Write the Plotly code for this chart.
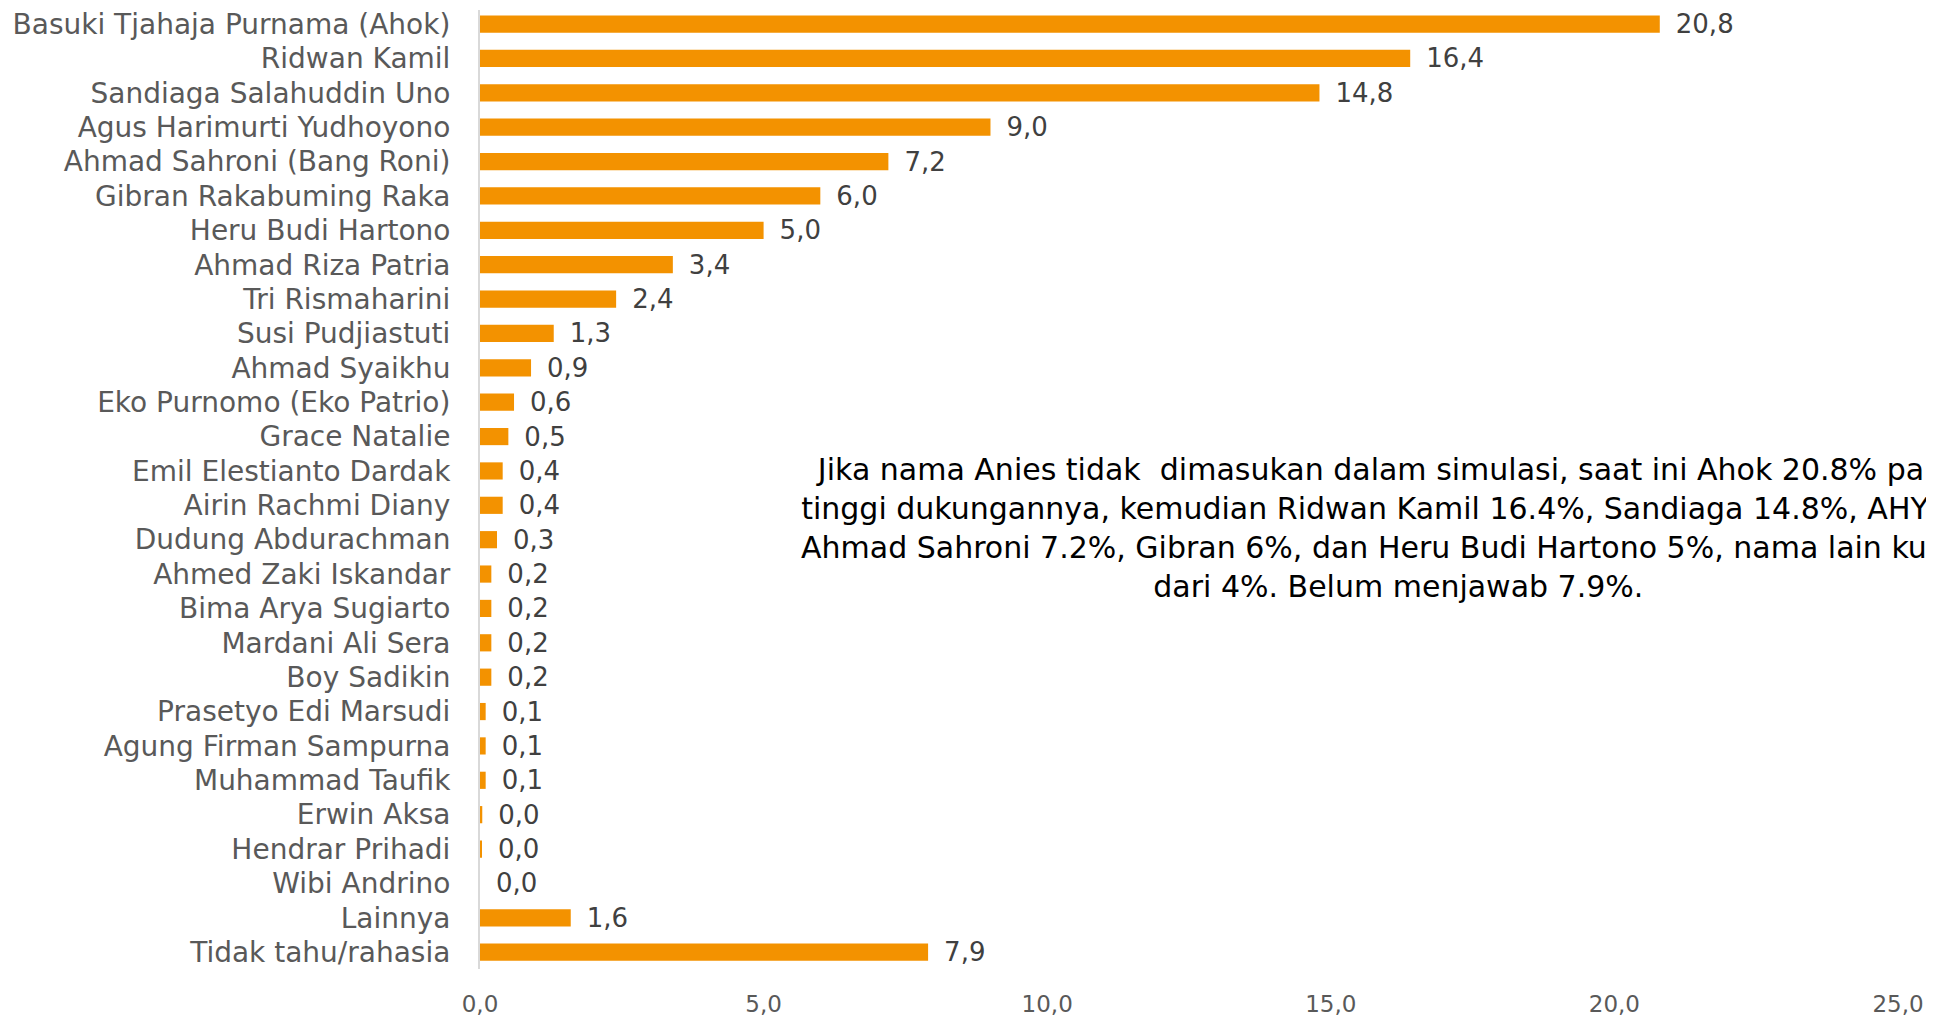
import plotly.graph_objects as go

# candidates, top to bottom
names = [
    "Basuki Tjahaja Purnama (Ahok)", "Ridwan Kamil", "Sandiaga Salahuddin Uno",
    "Agus Harimurti Yudhoyono", "Ahmad Sahroni (Bang Roni)", "Gibran Rakabuming Raka",
    "Heru Budi Hartono", "Ahmad Riza Patria", "Tri Rismaharini", "Susi Pudjiastuti",
    "Ahmad Syaikhu", "Eko Purnomo (Eko Patrio)", "Grace Natalie", "Emil Elestianto Dardak",
    "Airin Rachmi Diany", "Dudung Abdurachman", "Ahmed Zaki Iskandar", "Bima Arya Sugiarto",
    "Mardani Ali Sera", "Boy Sadikin", "Prasetyo Edi Marsudi", "Agung Firman Sampurna",
    "Muhammad Taufik", "Erwin Aksa", "Hendrar Prihadi", "Wibi Andrino", "Lainnya",
    "Tidak tahu/rahasia",
]
values = [20.8, 16.4, 14.8, 9.0, 7.2, 6.0, 5.0, 3.4, 2.4, 1.3, 0.9, 0.6, 0.5, 0.4,
          0.4, 0.3, 0.2, 0.2, 0.2, 0.2, 0.1, 0.1, 0.1, 0.04, 0.03, 0.0, 1.6, 7.9]

x_ticks = [0, 5, 10, 15, 20, 25]

note = ("Jika nama Anies tidak  dimasukan dalam simulasi, saat ini Ahok 20.8% paling<br>"
        "tinggi dukungannya, kemudian Ridwan Kamil 16.4%, Sandiaga 14.8%, AHY 9%,<br>"
        "Ahmad Sahroni 7.2%, Gibran 6%, dan Heru Budi Hartono 5%, nama lain kurang<br>"
        "dari 4%. Belum menjawab 7.9%.")

FONT = "DejaVu Sans"

fig = go.Figure()
fig.add_trace(go.Bar(
    x=values, y=names, orientation="h",
    marker=dict(color="#F39200", line=dict(width=0)),
    width=0.5,
    texttemplate="\u2002%{x:.1f}", textposition="outside", cliponaxis=False,
    constraintext="none",
    textfont=dict(family=FONT, size=26, color="#404040"),
))

# the note runs past the right edge of the page, as in the original
fig.add_annotation(
    text=note, x=16.2, y=0.46, xref="x", yref="paper",
    showarrow=False, align="center", xanchor="center", yanchor="middle",
    font=dict(family=FONT, size=30, color="#000000"),
)

fig.update_layout(
    width=1926, height=1010,
    margin=dict(l=472, r=36, t=0, b=49),
    paper_bgcolor="white", plot_bgcolor="white",
    separators=",.",
    showlegend=False,
    font=dict(family=FONT, color="#595959"),
)
fig.update_xaxes(
    range=[0, 25], tickvals=x_ticks, tickformat=".1f",
    showgrid=False, zeroline=False, showline=False,
    ticks="", ticklabelstandoff=19,
    tickfont=dict(family=FONT, size=23, color="#595959"),
)
fig.update_yaxes(
    range=[27.49, -0.41], showgrid=False, zeroline=False,
    showline=True, linecolor="#D9D9D9", linewidth=2,
    ticks="", ticklabelstandoff=22,
    tickfont=dict(family=FONT, size=28, color="#595959"),
)

fig.write_html("out.html")
